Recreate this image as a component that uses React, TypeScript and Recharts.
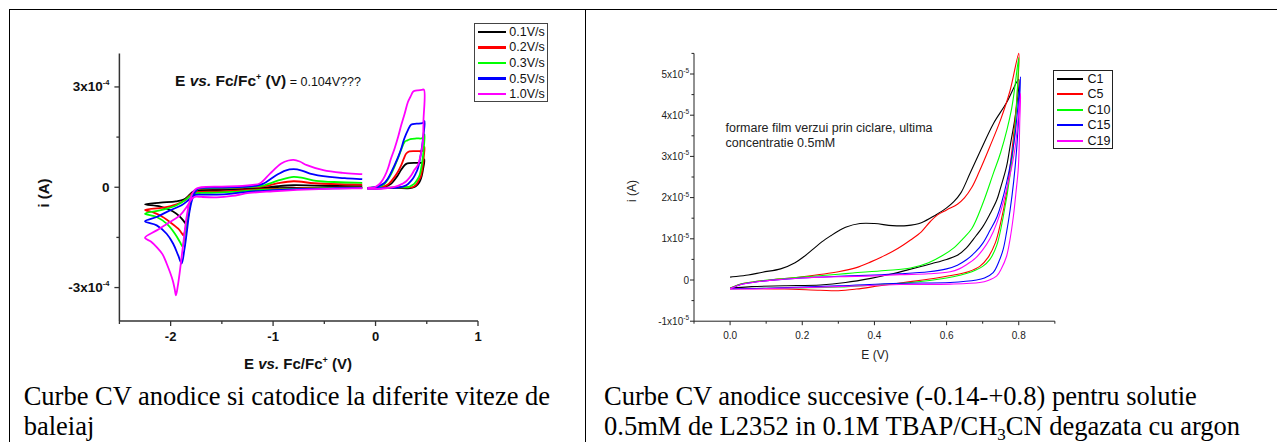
import React from 'react';
import { LineChart, Line, XAxis, YAxis, Legend } from 'recharts';

type Pt = [number, number];

// ---- left panel: scan-rate series (E vs. Fc/Fc+ in V, current in 1e-4 A) ----
const rateNames = ['0.1V/s', '0.2V/s', '0.3V/s', '0.5V/s', '1.0V/s'];
const rateColors = ['#000000', '#ff0000', '#00ff00', '#0000ff', '#ff00ff'];

// cathodic window, from -0.13 V down to -2.25 V and back
const cath01: Pt[] = [[-0.13,0.0],[-0.4,-0.01],[-0.7,-0.02],[-1.0,-0.03],[-1.23,-0.05],[-1.4,-0.07],[-1.55,-0.09],[-1.7,-0.1],[-1.76,-0.11],[-1.79,-0.15],[-1.82,-0.24],[-1.873,-0.37],[-1.95,-0.42],[-2.1,-0.46],[-2.25,-0.51],[-2.1,-0.58],[-1.98,-0.72],[-1.91,-0.88],[-1.87,-1.02],[-1.851,-1.09],[-1.835,-0.98],[-1.82,-0.7],[-1.8,-0.3],[-1.763,-0.1],[-1.72,-0.06],[-1.5,-0.05],[-1.3,-0.04],[-1.1,-0.02],[-0.95,0.03],[-0.8,0.06],[-0.6,0.05],[-0.35,0.04],[-0.13,0.03]];
const cath02: Pt[] = [[-0.13,-0.01],[-0.4,-0.015],[-0.7,-0.03],[-1.0,-0.05],[-1.23,-0.08],[-1.4,-0.11],[-1.55,-0.13],[-1.7,-0.14],[-1.76,-0.15],[-1.79,-0.19],[-1.82,-0.27],[-1.861,-0.39],[-1.942,-0.51],[-2.072,-0.61],[-2.25,-0.68],[-2.17,-0.75],[-2.104,-0.84],[-2.007,-1.04],[-1.926,-1.24],[-1.89,-1.38],[-1.877,-1.44],[-1.86,-1.32],[-1.844,-1.09],[-1.819,-0.69],[-1.795,-0.29],[-1.763,-0.1],[-1.73,-0.05],[-1.7,-0.04],[-1.5,-0.03],[-1.3,-0.01],[-1.15,0.01],[-1.05,0.05],[-0.95,0.12],[-0.8,0.18],[-0.6,0.12],[-0.35,0.09],[-0.13,0.08]];
const cath03: Pt[] = [[-0.13,-0.01],[-0.4,-0.02],[-0.7,-0.04],[-1.0,-0.07],[-1.23,-0.1],[-1.4,-0.14],[-1.55,-0.16],[-1.7,-0.17],[-1.76,-0.18],[-1.785,-0.21],[-1.812,-0.27],[-1.861,-0.39],[-1.942,-0.54],[-2.072,-0.67],[-2.25,-0.79],[-2.136,-0.89],[-2.039,-1.09],[-1.958,-1.39],[-1.909,-1.64],[-1.883,-1.77],[-1.861,-1.39],[-1.828,-0.79],[-1.802,-0.34],[-1.763,-0.12],[-1.73,-0.05],[-1.7,-0.03],[-1.5,-0.02],[-1.3,0.0],[-1.18,0.02],[-1.1,0.05],[-0.94,0.21],[-0.8,0.31],[-0.7,0.27],[-0.58,0.19],[-0.35,0.15],[-0.13,0.13]];
const cath05: Pt[] = [[-0.13,-0.02],[-0.4,-0.03],[-0.7,-0.05],[-1.0,-0.09],[-1.23,-0.13],[-1.4,-0.19],[-1.55,-0.22],[-1.7,-0.22],[-1.76,-0.23],[-1.78,-0.27],[-1.828,-0.39],[-1.893,-0.54],[-2.007,-0.69],[-2.136,-0.89],[-2.25,-1.02],[-2.136,-1.14],[-2.039,-1.39],[-1.975,-1.69],[-1.926,-2.04],[-1.893,-2.28],[-1.867,-1.89],[-1.844,-1.39],[-1.819,-0.79],[-1.792,-0.39],[-1.763,-0.15],[-1.73,-0.04],[-1.7,-0.02],[-1.5,-0.01],[-1.3,0.01],[-1.18,0.04],[-1.1,0.1],[-0.97,0.36],[-0.88,0.5],[-0.8,0.54],[-0.72,0.5],[-0.64,0.41],[-0.45,0.31],[-0.3,0.27],[-0.13,0.24]];
const cath10: Pt[] = [[-0.13,-0.03],[-0.4,-0.04],[-0.7,-0.07],[-1.0,-0.12],[-1.23,-0.17],[-1.4,-0.26],[-1.55,-0.3],[-1.7,-0.29],[-1.75,-0.28],[-1.78,-0.31],[-1.8,-0.37],[-1.844,-0.59],[-1.909,-0.84],[-2.007,-1.04],[-2.136,-1.29],[-2.25,-1.51],[-2.19,-1.63],[-2.136,-1.79],[-2.08,-2.0],[-2.039,-2.28],[-1.98,-2.78],[-1.96,-3.05],[-1.948,-3.23],[-1.93,-2.95],[-1.909,-2.49],[-1.877,-1.69],[-1.844,-0.89],[-1.812,-0.39],[-1.78,-0.14],[-1.747,-0.04],[-1.7,0.0],[-1.5,0.02],[-1.3,0.04],[-1.2,0.07],[-1.13,0.11],[-1.03,0.41],[-0.92,0.71],[-0.85,0.8],[-0.8,0.82],[-0.74,0.77],[-0.67,0.66],[-0.51,0.51],[-0.32,0.43],[-0.13,0.39]];

// anodic window, -0.08 V up to +0.48 V and back
const anod01: Pt[] = [[-0.08,-0.03],[0.0,-0.03],[0.2,-0.02],[0.316,-0.03],[0.36,-0.01],[0.38,0.01],[0.41,0.08],[0.43,0.16],[0.45,0.33],[0.462,0.51],[0.478,0.83],[0.46,0.74],[0.4,0.73],[0.33,0.72],[0.3,0.7],[0.284,0.66],[0.25,0.52],[0.218,0.36],[0.185,0.22],[0.154,0.11],[0.12,0.05],[0.08,0.01],[0.0,-0.01],[-0.08,-0.02]];
const anod02: Pt[] = [[-0.08,-0.03],[0.0,-0.03],[0.15,-0.01],[0.3,0.0],[0.36,0.0],[0.397,0.08],[0.42,0.2],[0.44,0.31],[0.462,0.66],[0.472,0.95],[0.478,1.21],[0.46,1.09],[0.4,1.08],[0.33,1.07],[0.3,1.01],[0.275,0.85],[0.251,0.66],[0.22,0.47],[0.186,0.31],[0.15,0.17],[0.121,0.08],[0.08,0.02],[0.0,-0.01],[-0.08,-0.02]];
const anod03: Pt[] = [[-0.08,-0.03],[0.0,-0.03],[0.15,-0.01],[0.28,0.0],[0.316,0.0],[0.35,0.05],[0.38,0.11],[0.41,0.24],[0.43,0.36],[0.456,0.76],[0.47,1.15],[0.478,1.58],[0.46,1.47],[0.4,1.46],[0.34,1.44],[0.31,1.4],[0.284,1.36],[0.25,1.12],[0.218,0.86],[0.185,0.62],[0.154,0.41],[0.12,0.23],[0.09,0.11],[0.05,0.03],[0.0,0.0],[-0.08,-0.02]];
const anod05: Pt[] = [[-0.08,-0.04],[0.0,-0.04],[0.1,-0.02],[0.22,-0.01],[0.3,0.06],[0.34,0.17],[0.365,0.26],[0.39,0.4],[0.413,0.56],[0.446,1.06],[0.465,1.5],[0.478,1.98],[0.46,1.92],[0.4,1.9],[0.349,1.88],[0.316,1.71],[0.28,1.45],[0.251,1.16],[0.22,0.9],[0.186,0.66],[0.15,0.43],[0.121,0.26],[0.09,0.14],[0.057,0.07],[0.0,0.0],[-0.08,-0.02]];
const anod10: Pt[] = [[-0.08,-0.05],[0.0,-0.05],[0.1,-0.03],[0.186,0.01],[0.218,0.04],[0.26,0.1],[0.3,0.18],[0.349,0.36],[0.38,0.52],[0.413,0.66],[0.44,0.96],[0.462,1.36],[0.468,2.0],[0.472,2.92],[0.45,2.91],[0.413,2.9],[0.38,2.88],[0.365,2.85],[0.34,2.7],[0.316,2.55],[0.284,2.2],[0.251,1.86],[0.22,1.5],[0.186,1.16],[0.15,0.85],[0.121,0.56],[0.09,0.33],[0.057,0.16],[0.02,0.05],[-0.01,0.0],[-0.08,-0.02]];

const cathodic = [cath01, cath02, cath03, cath05, cath10];
const anodic = [anod01, anod02, anod03, anod05, anod10];

const leftXTicks = [-2.5, -2, -1.5, -1, -0.5, 0, 0.5, 1];
const leftYTicks = [-3, -1.5, 0, 1.5, 3];

// ---- right panel: successive cycles (E in V, current in 1e-5 A) ----
const cycleNames = ['C1', 'C5', 'C10', 'C15', 'C19'];
const cycleColors = ['#000000', '#ff0000', '#00ff00', '#0000ff', '#ff00ff'];

const cycle1: Pt[] = [[0.0,0.07],[0.05,0.12],[0.09,0.19],[0.14,0.27],[0.18,0.42],[0.205,0.57],[0.23,0.75],[0.255,0.93],[0.28,1.08],[0.3,1.19],[0.32,1.28],[0.36,1.37],[0.4,1.37],[0.45,1.32],[0.49,1.32],[0.53,1.39],[0.57,1.58],[0.6,1.75],[0.62,1.9],[0.64,2.12],[0.665,2.59],[0.695,3.16],[0.73,3.8],[0.766,4.3],[0.8,4.87],[0.795,4.3],[0.789,3.9],[0.776,3.25],[0.766,2.75],[0.75,2.25],[0.739,1.94],[0.72,1.6],[0.7,1.29],[0.675,1.0],[0.655,0.78],[0.63,0.6],[0.6,0.5],[0.56,0.4],[0.526,0.32],[0.49,0.24],[0.45,0.15],[0.39,0.04],[0.32,-0.06],[0.25,-0.12],[0.15,-0.14],[0.06,-0.16],[0.0,-0.2]];
const cycle5: Pt[] = [[0.0,-0.2],[0.03,-0.1],[0.07,-0.04],[0.11,0.0],[0.2,0.08],[0.3,0.2],[0.35,0.3],[0.39,0.44],[0.42,0.56],[0.45,0.69],[0.48,0.85],[0.5,0.97],[0.53,1.17],[0.555,1.42],[0.575,1.58],[0.6,1.7],[0.63,1.84],[0.65,2.0],[0.67,2.25],[0.69,2.62],[0.72,3.24],[0.75,3.9],[0.776,4.6],[0.8,5.5],[0.797,4.7],[0.79,3.9],[0.778,2.9],[0.766,2.1],[0.75,1.4],[0.735,0.9],[0.715,0.55],[0.692,0.33],[0.66,0.2],[0.62,0.12],[0.58,0.06],[0.5,-0.04],[0.415,-0.14],[0.35,-0.22],[0.3,-0.26],[0.25,-0.25],[0.15,-0.22],[0.05,-0.21],[0.0,-0.21]];
const cycle10: Pt[] = [[0.0,-0.2],[0.03,-0.1],[0.07,-0.04],[0.11,0.0],[0.2,0.07],[0.3,0.14],[0.34,0.17],[0.43,0.23],[0.5,0.29],[0.55,0.42],[0.59,0.6],[0.62,0.78],[0.645,1.0],[0.67,1.25],[0.7,1.85],[0.73,2.6],[0.75,3.1],[0.78,4.15],[0.8,5.4],[0.797,4.8],[0.789,3.6],[0.776,2.55],[0.757,1.54],[0.739,0.84],[0.72,0.5],[0.7,0.33],[0.67,0.2],[0.64,0.12],[0.6,0.05],[0.5,-0.06],[0.4,-0.12],[0.3,-0.17],[0.2,-0.19],[0.1,-0.2],[0.0,-0.21]];
const cycle15: Pt[] = [[0.0,-0.21],[0.03,-0.11],[0.07,-0.05],[0.11,-0.01],[0.2,0.05],[0.3,0.09],[0.4,0.12],[0.47,0.15],[0.55,0.2],[0.6,0.27],[0.63,0.36],[0.655,0.49],[0.68,0.68],[0.7,0.89],[0.72,1.2],[0.74,1.54],[0.766,2.35],[0.789,3.48],[0.805,4.93],[0.8,4.0],[0.794,3.16],[0.786,2.4],[0.776,1.7],[0.766,1.15],[0.757,0.75],[0.745,0.45],[0.729,0.18],[0.705,0.05],[0.683,0.0],[0.61,-0.06],[0.47,-0.08],[0.3,-0.14],[0.1,-0.2],[0.0,-0.21]];
const cycle19: Pt[] = [[0.0,-0.21],[0.03,-0.11],[0.07,-0.05],[0.11,-0.01],[0.2,0.05],[0.3,0.08],[0.4,0.1],[0.47,0.13],[0.55,0.15],[0.61,0.2],[0.635,0.27],[0.655,0.37],[0.68,0.53],[0.7,0.73],[0.72,1.0],[0.739,1.38],[0.766,2.19],[0.789,3.16],[0.805,4.53],[0.803,3.9],[0.799,2.75],[0.792,2.1],[0.785,1.54],[0.776,1.0],[0.766,0.57],[0.752,0.28],[0.739,0.1],[0.715,-0.01],[0.692,-0.06],[0.61,-0.1],[0.47,-0.11],[0.3,-0.16],[0.1,-0.21],[0.0,-0.22]];

const cycles = [cycle1, cycle5, cycle10, cycle15, cycle19];

const rightXTicks = [-0.1, 0, 0.1, 0.2, 0.3, 0.4, 0.5, 0.6, 0.7, 0.8, 0.9];
const rightYTicks = [-1, -0.5, 0, 0.5, 1, 1.5, 2, 2.5, 3, 3.5, 4, 4.5, 5, 5.5];

const sans = '"Liberation Sans", Arial, sans-serif';
const serif = '"Liberation Serif", "Times New Roman", serif';

const rows = (pts: Pt[]) => pts.map(([E, i]) => ({ E, i }));

// centripetal Catmull-Rom path through the scan points, so closed loops stay smooth
const catmullRom = (context: any) => {
  let pts: number[][] = [];
  return {
    areaStart() {},
    areaEnd() {},
    lineStart() { pts = []; },
    point(x: number, y: number) { pts.push([+x, +y]); },
    lineEnd() {
      const n = pts.length;
      if (!n) return;
      context.moveTo(pts[0][0], pts[0][1]);
      if (n < 3) {
        for (let k = 1; k < n; k++) context.lineTo(pts[k][0], pts[k][1]);
        return;
      }
      const at = (k: number) => {
        if (k < 0) return [2 * pts[0][0] - pts[1][0], 2 * pts[0][1] - pts[1][1]];
        if (k >= n) return [2 * pts[n - 1][0] - pts[n - 2][0], 2 * pts[n - 1][1] - pts[n - 2][1]];
        return pts[k];
      };
      const knot = (a: number[], b: number[]) => Math.max(Math.sqrt(Math.hypot(b[0] - a[0], b[1] - a[1])), 1e-4);
      for (let k = 0; k < n - 1; k++) {
        const p0 = at(k - 1), p1 = pts[k], p2 = pts[k + 1], p3 = at(k + 2);
        const d0 = knot(p0, p1), d1 = knot(p1, p2), d2 = knot(p2, p3);
        const c = [0, 1].map((j) => {
          const m1 = d1 * ((p1[j] - p0[j]) / d0 - (p2[j] - p0[j]) / (d0 + d1) + (p2[j] - p1[j]) / d1);
          const m2 = d1 * ((p2[j] - p1[j]) / d1 - (p3[j] - p1[j]) / (d1 + d2) + (p3[j] - p2[j]) / d2);
          return [p1[j] + m1 / 3, p2[j] - m2 / 3];
        });
        context.bezierCurveTo(c[0][0], c[1][0], c[0][1], c[1][1], p2[0], p2[1]);
      }
    },
  };
};

// ---- axis ticks ----
const LeftXTick = (props: any) => {
  const { x, y, payload } = props;
  const v = payload.value as number;
  const major = Number.isInteger(v);
  return (
    <g>
      <line x1={x} x2={x} y1={y} y2={y + (major ? 5 : 3)} stroke="#333" strokeWidth={1.3} />
      {major && (
        <text x={x} y={y + 20} textAnchor="middle" fontFamily={sans} fontSize={13} fontWeight="bold" fill="#111">
          {String(v)}
        </text>
      )}
    </g>
  );
};

const LeftYTick = (props: any) => {
  const { x, y, payload } = props;
  const v = payload.value as number;
  const major = v % 3 === 0;
  return (
    <g>
      <line x1={x - (major ? 5 : 3)} x2={x} y1={y} y2={y} stroke="#333" strokeWidth={1.3} />
      {major && (
        <text x={x - 10} y={y + 4.5} textAnchor="end" fontFamily={sans} fontSize={13.5} fontWeight="bold" fill="#111">
          {v === 0 ? '0' : (
            <>
              <tspan>{`${v}x10`}</tspan>
              <tspan dy={-6} fontSize={7.5}>-4</tspan>
            </>
          )}
        </text>
      )}
    </g>
  );
};

const RightXTick = (props: any) => {
  const { x, y, payload } = props;
  const v = payload.value as number;
  const major = Math.round(v * 10) % 2 === 0;
  return (
    <g>
      <line x1={x} x2={x} y1={y} y2={y + (major ? 4 : 2.5)} stroke="#222" strokeWidth={1} />
      {major && (
        <text x={x} y={y + 17.3} textAnchor="middle" fontFamily={sans} fontSize={10} fill="#222">
          {v.toFixed(1)}
        </text>
      )}
    </g>
  );
};

const RightYTick = (props: any) => {
  const { x, y, payload } = props;
  const v = payload.value as number;
  const major = Number.isInteger(v);
  return (
    <g>
      <line x1={x - (major ? 4 : 2.5)} x2={x} y1={y} y2={y} stroke="#222" strokeWidth={1} />
      {major && (
        <text x={x - 5} y={y + 3.5} textAnchor="end" fontFamily={sans} fontSize={10} fill="#222">
          {v === 0 ? '0' : (
            <>
              <tspan>{`${v}x10`}</tspan>
              <tspan dy={-4.5} fontSize={6.5}>-5</tspan>
            </>
          )}
        </text>
      )}
    </g>
  );
};

// ---- legend box ----
const LegendBox = (p: {
  names: string[]; colors: string[]; width: number; height: number;
  first: number; step: number; sampleX: number; sampleW: number; textX: number; lineW: number; border: string;
}) => (
  <div style={{ position: 'relative', width: p.width, height: p.height, border: p.border, boxSizing: 'border-box', background: '#fff' }}>
    {p.names.map((n, k) => (
      <div key={n} style={{ position: 'absolute', left: 0, top: p.first + p.step * k - 8, height: 16, width: '100%' }}>
        <div style={{ position: 'absolute', left: p.sampleX, top: 8 - p.lineW / 2, width: p.sampleW, height: p.lineW, background: p.colors[k] }} />
        <span style={{ position: 'absolute', left: p.textX, top: 0, lineHeight: '16px', fontSize: 12.5, fontFamily: sans, color: '#111', whiteSpace: 'nowrap' }}>{n}</span>
      </div>
    ))}
  </div>
);

const leftXTitle = () => (
  <text x={298} y={368.5} textAnchor="middle" fontFamily={sans} fontSize={15} fontWeight="bold" fill="#111">
    <tspan>E </tspan><tspan fontStyle="italic">vs.</tspan><tspan> Fc/Fc</tspan>
    <tspan dy={-6} fontSize={9}>+</tspan><tspan dy={6}> (V)</tspan>
  </text>
);
const leftYTitle = () => (
  <text transform="translate(48.5,193) rotate(-90)" textAnchor="middle" fontFamily={sans} fontSize={15} fontWeight="bold" fill="#111">
    i (A)
  </text>
);
const rightXTitle = () => (
  <text x={285} y={358.8} textAnchor="middle" fontFamily={sans} fontSize={12} fill="#222">E (V)</text>
);
const rightYTitle = () => (
  <text transform="translate(45.5,191) rotate(-90)" textAnchor="middle" fontFamily={sans} fontSize={12} fill="#222">i (A)</text>
);

const LeftPanel = () => (
  <LineChart width={560} height={400} margin={{ top: 53.5, right: 82, bottom: 0, left: 0 }}>
    <XAxis
      type="number" dataKey="E" domain={[-2.5, 1]} ticks={leftXTicks} interval={0}
      height={79} tickSize={0} tickMargin={0} tickLine={false} tick={<LeftXTick />}
      axisLine={{ stroke: '#333', strokeWidth: 1.5 }} label={leftXTitle}
    />
    <YAxis
      type="number" dataKey="i" domain={[-4, 4]} ticks={leftYTicks} interval={0}
      width={119.4} tickSize={0} tickMargin={0} tickLine={false} tick={<LeftYTick />}
      axisLine={{ stroke: '#333', strokeWidth: 1.5 }} label={leftYTitle}
    />
    {cathodic.map((pts, k) => (
      <Line key={`c${k}`} data={rows(pts)} dataKey="i" name={rateNames[k]} stroke={rateColors[k]} strokeWidth={1.8}
        dot={false} activeDot={false} type={catmullRom as any} isAnimationActive={false} legendType="none" />
    ))}
    {anodic.map((pts, k) => (
      <Line key={`a${k}`} data={rows(pts)} dataKey="i" name={rateNames[k]} stroke={rateColors[k]} strokeWidth={1.8}
        dot={false} activeDot={false} type={catmullRom as any} isAnimationActive={false} legendType="none" />
    ))}
    <Legend
      layout="horizontal" verticalAlign="middle" align="center"
      wrapperStyle={{ left: 474, top: 22.7, width: 'auto', height: 'auto' }}
      content={() => (
        <LegendBox names={rateNames} colors={rateColors} width={73.5} height={79.3} first={8.1} step={15.6}
          sampleX={3} sampleW={27.6} textX={34.3} lineW={2.5} border="1.5px solid #444" />
      )}
    />
  </LineChart>
);

const RightPanel = () => (
  <LineChart width={560} height={400} margin={{ top: 53.4, right: 95.15, bottom: 0, left: 0 }}>
    <XAxis
      type="number" dataKey="E" domain={[-0.1, 0.9]} ticks={rightXTicks} interval={0}
      height={78.8} tickSize={0} tickMargin={0} tickLine={false} tick={<RightXTick />}
      axisLine={{ stroke: '#222', strokeWidth: 1 }} label={rightXTitle}
    />
    <YAxis
      type="number" dataKey="i" domain={[-1, 5.5]} ticks={rightYTicks} interval={0}
      width={104} tickSize={0} tickMargin={0} tickLine={false} tick={<RightYTick />}
      axisLine={{ stroke: '#222', strokeWidth: 1 }} label={rightYTitle}
    />
    {cycles.map((pts, k) => (
      <Line key={`y${k}`} data={rows(pts)} dataKey="i" name={cycleNames[k]} stroke={cycleColors[k]} strokeWidth={1.1}
        dot={false} activeDot={false} type={catmullRom as any} isAnimationActive={false} legendType="none" />
    ))}
    <Legend
      layout="horizontal" verticalAlign="middle" align="center"
      wrapperStyle={{ left: 462.5, top: 70, width: 'auto', height: 'auto' }}
      content={() => (
        <LegendBox names={cycleNames} colors={cycleColors} width={60.5} height={79} first={7.8} step={15.5}
          sampleX={3} sampleW={26.8} textX={34} lineW={1.6} border="1.5px solid #222" />
      )}
    />
  </LineChart>
);

const captionStyle: React.CSSProperties = {
  position: 'absolute', fontFamily: serif, fontSize: 26.5, lineHeight: '30px', color: '#000', whiteSpace: 'nowrap',
};

export default function App() {
  return (
    <div style={{ position: 'absolute', left: 0, top: 0, width: 1277, height: 442, background: '#fff', overflow: 'hidden' }}>
      {/* table rules */}
      <div style={{ position: 'absolute', left: 9, top: 9, width: 1268, height: 1, background: '#000' }} />
      <div style={{ position: 'absolute', left: 9, top: 9, width: 1, height: 433, background: '#000' }} />
      <div style={{ position: 'absolute', left: 585, top: 9, width: 1, height: 433, background: '#000' }} />

      <div style={{ position: 'absolute', left: 0, top: 0 }}>
        <LeftPanel />
      </div>
      <div style={{ position: 'absolute', left: 590, top: 0 }}>
        <RightPanel />
      </div>

      <svg width={1277} height={442} style={{ position: 'absolute', left: 0, top: 0, pointerEvents: 'none' }}>
        <text x={175} y={86} fontFamily={sans} fontSize={15.5} fontWeight="bold" fill="#111">
          <tspan>E </tspan><tspan fontStyle="italic">vs.</tspan><tspan> Fc/Fc</tspan>
          <tspan dy={-6} fontSize={9}>+</tspan><tspan dy={6}> (V)</tspan>
          <tspan fontWeight="normal" fontSize={12.5}> = 0.104V???</tspan>
        </text>
        <text x={725.5} y={132} fontFamily={sans} fontSize={12.5} fill="#222">formare film verzui prin ciclare, ultima</text>
        <text x={725.5} y={147} fontFamily={sans} fontSize={12.5} fill="#222">concentratie 0.5mM</text>
      </svg>

      <div style={{ ...captionStyle, left: 23.7, top: 380.5 }}>
        Curbe CV anodice si catodice la diferite viteze de<br />baleiaj
      </div>
      <div style={{ ...captionStyle, left: 604, top: 380.5 }}>
        Curbe CV anodice succesive (-0.14-+0.8) pentru solutie<br />
        0.5mM de L2352 in 0.1M TBAP/CH<sub style={{ fontSize: 17, verticalAlign: -5, lineHeight: 0 }}>3</sub>CN degazata cu argon
      </div>
    </div>
  );
}
